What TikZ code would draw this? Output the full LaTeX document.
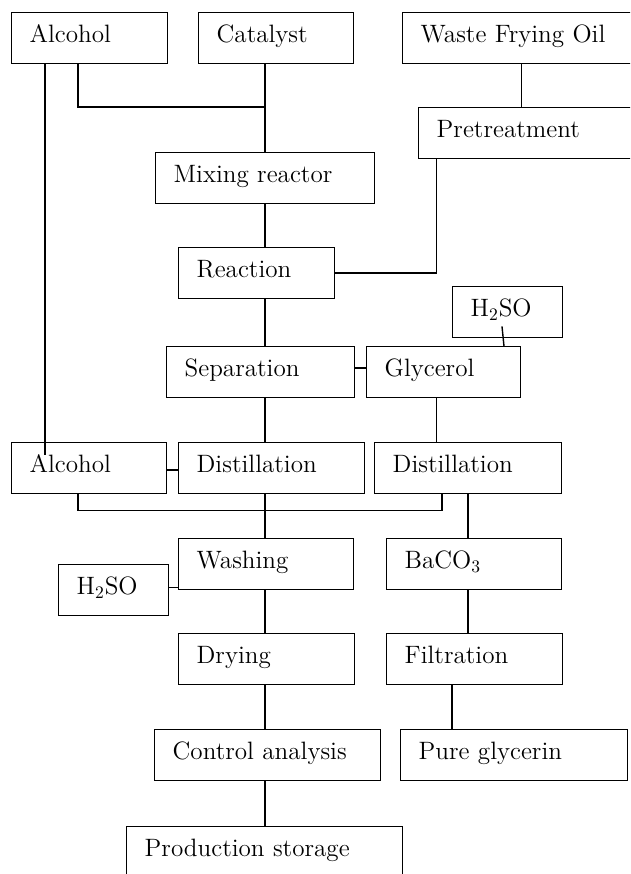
\documentclass[tikz,border=0pt]{standalone}
\usepackage{tikz}
\usetikzlibrary{positioning}

\tikzset{
  stage/.style={draw, line width=0.8pt, anchor=north west, minimum height=1.02cm,
    inner xsep=0.36cm, inner ysep=0pt, align=left,
    text height=0.72em, text depth=0.22em,
    font=\fontsize{14.3}{17}\selectfont},
  flow/.style={line width=0.8pt}
}

\begin{document}
\begin{tikzpicture}[x=0.02cm, y=-0.02cm]
    \clip (0,0) rectangle (630,874);

    % Entrées
    \node[stage, text width=2.40cm] (alcA) at (11,12) {Alcohol};
    \node[stage, text width=2.38cm] (cat) at (198,12) {Catalyst};
    \node[stage, text width=4.04cm] (oil) at (402,12) {Waste Frying Oil};
    \node[stage, text width=4.08cm] (pre) at (418,107) {Pretreatment};

    % Colonne principale
    \node[stage, text width=3.66cm] (mix) at (155,152) {Mixing reactor};
    \node[stage, text width=2.40cm] (react) at (178,247) {Reaction};
    \node[stage, text width=3.04cm] (sep) at (166,346) {Separation};
    \node[stage, text width=3.00cm] (distA) at (178,442) {Distillation};
    \node[stage, text width=2.78cm] (wash) at (178,538) {Washing};
    \node[stage, text width=2.80cm] (dry) at (178,633) {Drying};
    \node[stage, text width=3.80cm] (ctrl) at (154,729) {Control analysis};
    \node[stage, text width=4.80cm] (prod) at (126,826) {Production storage};

    % Côtés
    \node[stage, text width=2.38cm] (alcB) at (11,442) {Alcohol};
    \node[stage, text width=1.48cm] (acidB) at (58,564) {H\textsubscript{2}SO};
    \node[stage, text width=1.48cm] (acidA) at (452,286) {H\textsubscript{2}SO};
    \node[stage, text width=2.36cm] (gly) at (366,346) {Glycerol};
    \node[stage, text width=3.02cm] (distB) at (374,442) {Distillation};
    \node[stage, text width=2.78cm] (baco) at (386,538) {BaCO\textsubscript{3}};
    \node[stage, text width=2.80cm] (filt) at (386,633) {Filtration};
    \node[stage, text width=3.82cm] (pure) at (400,729) {Pure glycerin};

    % Liaisons du haut
    \draw[flow] ([xshift=0.68cm]alcA.south west) -- ([xshift=0.68cm,yshift=-0.26cm]alcB.north west);
    \draw[flow] ([xshift=1.34cm]alcA.south west) |- (mix.north |- pre.north);
    \draw[flow] (mix.north |- cat.south) -- (mix.north);
    \draw[flow] (oil.south) -- (oil.south |- pre.north);
    \draw[flow] ([xshift=0.37cm]pre.south west) |- (react.east);

    % Tronc
    \draw[flow] (mix.south) -- (mix.south |- react.north);
    \draw[flow] (mix.south |- react.south) -- (mix.south |- sep.north);
    \draw[flow] (mix.south |- sep.south) -- (mix.south |- distA.north);
    \draw[flow] (mix.south |- distA.south) -- (mix.south |- wash.north);
    \draw[flow] (mix.south |- wash.south) -- (mix.south |- dry.north);
    \draw[flow] (mix.south |- dry.south) -- (mix.south |- ctrl.north);
    \draw[flow] (mix.south |- ctrl.south) -- (mix.south |- prod.north);

    % Branche glycérol
    \draw[flow] ([xshift=1.0cm,yshift=0.24cm]acidA.south west) -- ([xshift=2.76cm]gly.north west);
    \draw[flow] ([yshift=0.08cm]sep.east) -- ([yshift=0.08cm]gly.west);
    \draw[flow] ([xshift=1.41cm]gly.south west) -- ([xshift=1.41cm]gly.south west |- distB.north);
    \draw[flow] (distB.south) -- (distB.south |- baco.north);
    \draw[flow] (distB.south |- baco.south) -- (distB.south |- filt.north);
    \draw[flow] ([xshift=1.32cm]filt.south west) -- ([xshift=1.32cm]filt.south west |- pure.north);

    % Recyclage et lavage
    \draw[flow] ([yshift=-0.04cm]alcB.east) -- ([yshift=-0.04cm]distA.west);
    \draw[flow] ([xshift=1.34cm]alcB.south west) -- ++(0,16) -| ([xshift=1.36cm]distB.south west);
    \draw[flow] ([yshift=0.06cm]acidB.east) -- ([yshift=0.06cm]acidB.east -| wash.west);
\end{tikzpicture}
\end{document}
